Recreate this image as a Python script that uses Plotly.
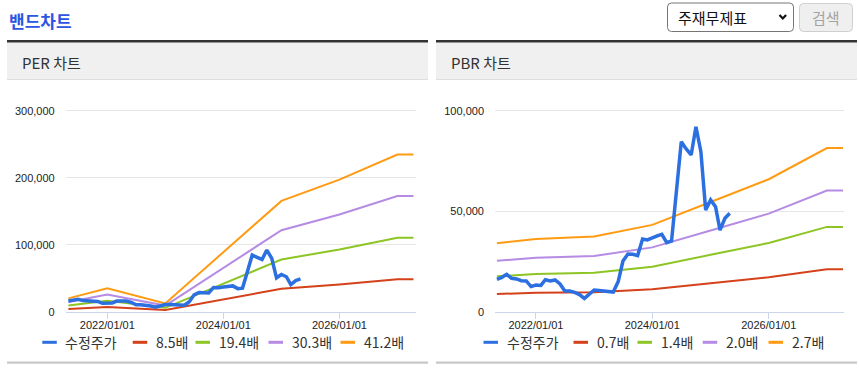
import plotly.graph_objects as go

W, H = 859, 375

# ---------------- data ----------------
price_dates = [
    "2021-05-01", "2021-06-01", "2021-07-01", "2021-08-01", "2021-09-01", "2021-10-01",
    "2021-11-01", "2021-12-01", "2022-01-01", "2022-02-01", "2022-03-01", "2022-04-01",
    "2022-05-01", "2022-06-01", "2022-07-01", "2022-08-01", "2022-09-01", "2022-10-01",
    "2022-11-01", "2022-12-01", "2023-01-01", "2023-02-01", "2023-03-01", "2023-04-01",
    "2023-05-01", "2023-06-01", "2023-07-01", "2023-08-01", "2023-09-01", "2023-10-01",
    "2023-11-01", "2023-12-01", "2024-01-01", "2024-02-01", "2024-03-01", "2024-04-01",
    "2024-05-01", "2024-06-01", "2024-07-01", "2024-08-01", "2024-09-01", "2024-10-01",
    "2024-11-01", "2024-12-01", "2025-01-01", "2025-02-01", "2025-03-01", "2025-04-01",
    "2025-05-01",
]
price_values = [
    16100, 17100, 18600, 16600, 16300, 15400, 15300, 12500, 13300, 13100,
    15900, 15300, 15800, 13800, 10300, 10300, 9600, 8500, 6600, 8600,
    10800, 10600, 10300, 9800, 9800, 15000, 25200, 28700, 28600, 27900,
    36200, 35700, 36900, 37700, 38500, 34400, 35200, 60000, 84600, 81000,
    78000, 92000, 79600, 50600, 55600, 52200, 40600, 46500, 49000,
]
price_name = "수정주가"

band_dates = ["2021-05-01", "2022-01-01", "2023-01-01", "2024-01-01",
              "2025-01-01", "2026-01-01", "2027-01-01", "2027-04-12"]

per_names = ["8.5배", "19.4배", "30.3배", "41.2배"]
per_8_5 = [4100, 7200, 2600, 18400, 34100, 40700, 48400, 48400]
per_19_4 = [9400, 16400, 5800, 42100, 77900, 92900, 110400, 110400]
per_30_3 = [14600, 25600, 9100, 65800, 121600, 145000, 172500, 172500]
per_41_2 = [19900, 34800, 12400, 89400, 165400, 197200, 234500, 234500]

pbr_names = ["0.7배", "1.4배", "2.0배", "2.7배"]
pbr_0_7 = [8800, 9400, 9700, 11200, 14100, 17100, 21100, 21100]
pbr_1_4 = [17600, 18800, 19400, 22400, 28300, 34200, 42200, 42200]
pbr_2_0 = [25300, 26800, 27700, 32000, 40400, 48800, 60300, 60300]
pbr_2_7 = [34100, 36200, 37400, 43200, 54600, 65900, 81400, 81400]

x_tick_dates = ["2022-01-01", "2024-01-01", "2026-01-01"]
per_y_ticks = [0, 100000, 200000, 300000]
pbr_y_ticks = [0, 50000, 100000]

band_colors = ["#d4411a", "#8cc524", "#b58be4", "#ff9b12"]
price_color = "#2b6fe0"

# ---------------- helpers ----------------
def px(x):
    return x / W

def py(y):
    return 1 - y / H

KR = "Noto Sans CJK KR, Noto Sans, sans-serif"
NUM = "Liberation Sans, Arial, sans-serif"

fig = go.Figure()

per_bands = [per_8_5, per_19_4, per_30_3, per_41_2]
pbr_bands = [pbr_0_7, pbr_1_4, pbr_2_0, pbr_2_7]

for vals, name, col in zip(per_bands, per_names, band_colors):
    fig.add_trace(go.Scatter(x=band_dates, y=vals, name=name, mode="lines",
                             line=dict(color=col, width=2), xaxis="x", yaxis="y",
                             showlegend=False))
fig.add_trace(go.Scatter(x=price_dates, y=price_values, name=price_name, mode="lines",
                         line=dict(color=price_color, width=3.5), xaxis="x", yaxis="y",
                         showlegend=False))

for vals, name, col in zip(pbr_bands, pbr_names, band_colors):
    fig.add_trace(go.Scatter(x=band_dates, y=vals, name=name, mode="lines",
                             line=dict(color=col, width=2), xaxis="x2", yaxis="y2",
                             showlegend=False))
fig.add_trace(go.Scatter(x=price_dates, y=price_values, name=price_name, mode="lines",
                         line=dict(color=price_color, width=3.5), xaxis="x2", yaxis="y2",
                         showlegend=False))

plot_top, plot_bot = 104.7, 311.7
ydom = [py(plot_bot), py(plot_top)]

xcommon = dict(type="date", tickvals=x_tick_dates, tickformat="%Y/%m/%d",
               showgrid=False, showline=True, linecolor="#ccd6eb", linewidth=1,
               ticks="outside", ticklen=6, tickcolor="#ccd6eb", ticklabelstandoff=-3,
               tickfont=dict(family=NUM, size=11, color="#222"),
               zeroline=False, automargin=False, fixedrange=True)
ycommon = dict(tickformat=",", showgrid=True, gridcolor="#e6e6e6", gridwidth=1,
               zeroline=False, showline=False, ticks="", ticklabelstandoff=10,
               tickfont=dict(family=NUM, size=11, color="#222"),
               automargin=False, fixedrange=True)

fig.update_layout(
    width=W, height=H,
    margin=dict(l=0, r=0, t=0, b=0),
    paper_bgcolor="white", plot_bgcolor="white",
    showlegend=False,
    xaxis=dict(domain=[px(65.7), px(416)], range=["2021-04-14", "2027-04-28"],
               anchor="y", **xcommon),
    yaxis=dict(domain=ydom, range=[0, 308955], tickvals=per_y_ticks, anchor="x", **ycommon),
    xaxis2=dict(domain=[px(495), px(844.3)], range=["2021-04-19", "2027-04-20"],
                anchor="y2", **xcommon),
    yaxis2=dict(domain=ydom, range=[0, 102985], tickvals=pbr_y_ticks, anchor="x2", **ycommon),
)

shapes = []
annotations = []

def rect(x0, y0, x1, y1, fill, line_color=None, lw=0):
    shapes.append(dict(type="rect", xref="paper", yref="paper",
                       x0=px(x0), x1=px(x1), y0=py(y1), y1=py(y0),
                       fillcolor=fill, line=dict(color=line_color or fill, width=lw),
                       layer="below"))

def rrect(x0, y0, x1, y1, r, fill, line_color, lw=1):
    def P(x, y):
        return f"{px(x)},{py(y)}"
    path = (f"M {P(x0 + r, y0)} L {P(x1 - r, y0)} Q {P(x1, y0)} {P(x1, y0 + r)} "
            f"L {P(x1, y1 - r)} Q {P(x1, y1)} {P(x1 - r, y1)} "
            f"L {P(x0 + r, y1)} Q {P(x0, y1)} {P(x0, y1 - r)} "
            f"L {P(x0, y0 + r)} Q {P(x0, y0)} {P(x0 + r, y0)} Z")
    shapes.append(dict(type="path", xref="paper", yref="paper", path=path,
                       fillcolor=fill, line=dict(color=line_color, width=lw)))

def hline(x0, x1, y, color, width):
    shapes.append(dict(type="line", xref="paper", yref="paper",
                       x0=px(x0), x1=px(x1), y0=py(y), y1=py(y),
                       line=dict(color=color, width=width)))

def text(x, y, s, size, color, family=KR, xanchor="left", bold=False):
    annotations.append(dict(xref="paper", yref="paper", x=px(x), y=py(y),
                            text=f"<b>{s}</b>" if bold else s, showarrow=False,
                            xanchor=xanchor, yanchor="middle",
                            font=dict(family=family, size=size, color=color)))

# title
text(6.5, 20, "밴드차트", 17, "#2b55e2", bold=True)

# select box
rrect(667.5, 3, 793.5, 31.5, 4, "white", "#767676", 1)
text(676, 17, "주재무제표", 15, "#111")
chev = (f"M {px(779.5)},{py(15)} L {px(782.8)},{py(18.5)} L {px(786.1)},{py(15)}")
shapes.append(dict(type="path", xref="paper", yref="paper", path=chev,
                   line=dict(color="#111", width=2.2)))
# button
rrect(799.5, 3.5, 852.5, 31.5, 4, "#efefef", "#cfcfcf", 1)
text(826, 17.5, "검색", 15, "#a3a3a3", xanchor="center")

# panels
for (x0, x1, label) in [(7, 428, "PER 차트"), (436, 857, "PBR 차트")]:
    rect(x0, 42.3, x1, 79, "#f0f0f0")
    rect(x0, 40, x1, 42.5, "#333333")
    hline(x0, x1, 79.5, "#dddddd", 1)
    hline(x0, x1, 362.6, "#c8c8c8", 2.2)
    text(x0 + 13, 62.3, label, 15, "#333")

# manual legends
per_legend = [(42.3, price_name, price_color)] + [
    (x, n, c) for x, n, c in zip([132.7, 195.5, 268.5, 340.5], per_names, band_colors)]
pbr_legend = [(483.5, price_name, price_color)] + [
    (x, n, c) for x, n, c in zip([573.5, 637.5, 702.7, 768.5], pbr_names, band_colors)]

for items in (per_legend, pbr_legend):
    for x, name, col in items:
        hline(x, x + 14.5, 342.3, col, 3)
        text(x + 21, 342.3, name, 14, "#333")

fig.update_layout(shapes=shapes, annotations=annotations)

fig.write_html(
    "out.html",
    config={"displayModeBar": False},
    post_script="document.body.style.margin='0';document.body.style.overflow='hidden';",
)
